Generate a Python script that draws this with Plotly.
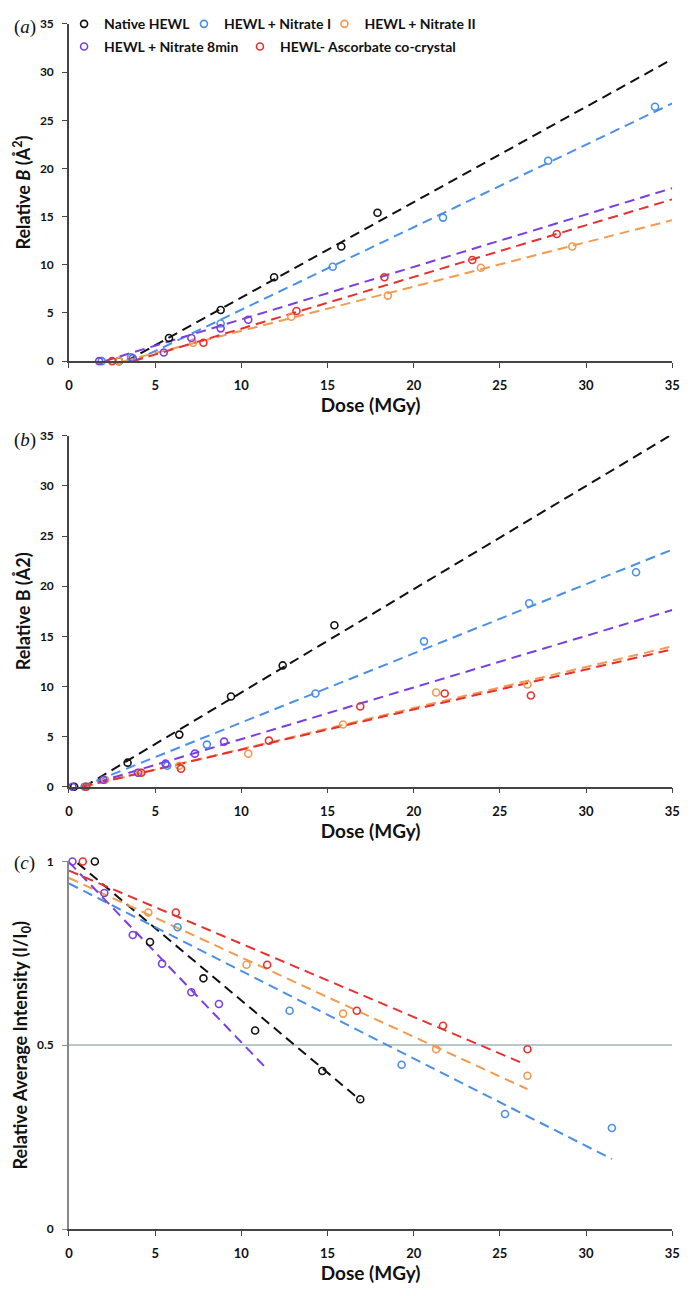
import plotly.graph_objects as go
import numpy as np

# page offset from default body margin
OFF = 8
W, H = 693 - OFF, 1296 - OFF

names = ["Native HEWL", "HEWL + Nitrate I", "HEWL + Nitrate II",
         "HEWL + Nitrate 8min", "HEWL- Ascorbate co-crystal"]
colors = ["#111111", "#4a8fe8", "#f39a4e", "#7a3fe4", "#e8302f"]

# ---------------- Panel (a): Relative B vs dose ----------------
a_native_x = [2.9, 5.8, 8.8, 11.9, 15.8, 17.9]
a_native_y = [0.0, 2.4, 5.3, 8.7, 11.9, 15.4]
a_nit1_x = [1.9, 3.6, 8.8, 15.3, 21.7, 27.8, 34.0]
a_nit1_y = [0.0, 0.4, 3.9, 9.8, 14.9, 20.8, 26.4]
a_nit2_x = [2.9, 7.2, 12.9, 18.5, 23.9, 29.2]
a_nit2_y = [0.0, 1.9, 4.6, 6.8, 9.7, 11.9]
a_8min_x = [1.75, 3.7, 5.5, 7.1, 8.8, 10.4]
a_8min_y = [0.0, 0.3, 0.9, 2.4, 3.4, 4.3]
a_asc_x = [2.5, 7.8, 13.2, 18.3, 23.4, 28.3]
a_asc_y = [0.0, 1.9, 5.2, 8.7, 10.5, 13.2]
a_slope = [0.99, 0.857, 0.46, 0.545, 0.537]
a_icpt = [-3.3, -3.24, -1.46, -1.12, -2.0]
a_xend = [35, 35, 35, 35, 35]

# ---------------- Panel (b): Relative B vs dose ----------------
b_native_x = [0.3, 3.4, 6.4, 9.4, 12.4, 15.4]
b_native_y = [0.0, 2.4, 5.2, 9.0, 12.1, 16.1]
b_nit1_x = [0.9, 5.7, 8.0, 14.3, 20.6, 26.7, 32.9]
b_nit1_y = [0.0, 2.1, 4.2, 9.3, 14.5, 18.3, 21.4]
b_nit2_x = [1.0, 2.1, 4.1, 6.4, 10.4, 15.9, 21.3, 26.6]
b_nit2_y = [0.0, 0.7, 1.4, 2.1, 3.3, 6.2, 9.4, 10.2]
b_8min_x = [0.2, 2.0, 4.0, 5.6, 7.3, 9.0]
b_8min_y = [0.0, 0.7, 1.4, 2.3, 3.3, 4.5]
b_asc_x = [1.0, 4.2, 6.5, 11.6, 16.9, 21.8, 26.8]
b_asc_y = [0.0, 1.4, 1.8, 4.6, 8.0, 9.3, 9.1]
b_slope = [1.03, 0.69, 0.41, 0.515, 0.40]
b_icpt = [-0.9, -0.5, -0.35, -0.4, -0.3]
b_xend = [35, 35, 35, 35, 35]

# ---------------- Panel (c): Relative intensity vs dose ----------------
c_native_x = [1.5, 4.7, 7.8, 10.8, 14.7, 16.9]
c_native_y = [1.0, 0.781, 0.682, 0.54, 0.43, 0.353]
c_nit1_x = [6.3, 12.8, 19.3, 25.3, 31.5]
c_nit1_y = [0.821, 0.594, 0.447, 0.313, 0.275]
c_nit2_x = [4.6, 10.3, 15.9, 21.3, 26.6]
c_nit2_y = [0.861, 0.719, 0.586, 0.489, 0.417]
c_8min_x = [0.2, 2.05, 3.7, 5.4, 7.1, 8.7]
c_8min_y = [1.0, 0.914, 0.80, 0.722, 0.644, 0.612]
c_asc_x = [0.8, 6.2, 11.5, 16.7, 21.7, 26.6]
c_asc_y = [1.0, 0.861, 0.719, 0.594, 0.553, 0.489]
c_slope = [-0.0393, -0.0238, -0.0216, -0.049, -0.0199]
c_icpt = [1.015, 0.94, 0.955, 0.998, 0.975]
c_xstart = [0.5, 0.0, 0.0, 0.0, 0.0]
c_xend = [16.9, 31.5, 26.6, 11.4, 26.4]

dose_ticks = [0, 5, 10, 15, 20, 25, 30, 35]
b_ticks = [0, 5, 10, 15, 20, 25, 30, 35]
i_ticks = [0, 0.5, 1]
i_ticklabels = ["0", "0.5", "1"]

FONT = "Lato"
fig = go.Figure()


def px_x(p):
    return (p - OFF) / W


def py(p):
    return 1 - (p - OFF) / H


panels = [
    ("x", "y", [(a_native_x, a_native_y), (a_nit1_x, a_nit1_y), (a_nit2_x, a_nit2_y),
                (a_8min_x, a_8min_y), (a_asc_x, a_asc_y)], a_slope, a_icpt, None, a_xend),
    ("x2", "y2", [(b_native_x, b_native_y), (b_nit1_x, b_nit1_y), (b_nit2_x, b_nit2_y),
                  (b_8min_x, b_8min_y), (b_asc_x, b_asc_y)], b_slope, b_icpt, None, b_xend),
    ("x3", "y3", [(c_native_x, c_native_y), (c_nit1_x, c_nit1_y), (c_nit2_x, c_nit2_y),
                  (c_8min_x, c_8min_y), (c_asc_x, c_asc_y)], c_slope, c_icpt, c_xstart, c_xend),
]

legend_ids = ["legend", "legend2", "legend3", "legend4", "legend5"]

for pi, (xa, ya, series, slopes, icpts, xs0, xs1) in enumerate(panels):
    for i in range(5):
        if xs0 is None:
            x0 = max(0.0, -icpts[i] / slopes[i])
        else:
            x0 = xs0[i]
        xl = np.array([x0, xs1[i]])
        yl = slopes[i] * xl + icpts[i]
        fig.add_trace(go.Scatter(x=xl, y=yl, mode="lines", xaxis=xa, yaxis=ya,
                                 line=dict(color=colors[i], width=2, dash="10px,6px"),
                                 showlegend=False, hoverinfo="skip"))
    for i, (sx, sy) in enumerate(series):
        fig.add_trace(go.Scatter(x=sx, y=sy, mode="markers", xaxis=xa, yaxis=ya,
                                 name=names[i],
                                 marker=dict(symbol="circle-open", size=7, color=colors[i],
                                             line=dict(width=1.6, color=colors[i])),
                                 cliponaxis=False,
                                 showlegend=(pi == 0),
                                 legend=legend_ids[i]))

xdom = [px_x(66), px_x(680)]
tickfont = dict(family=FONT, size=13, color="#111", weight="bold")
ytickfont = dict(family=FONT, size=12, color="#111", weight="bold")
titlefont = dict(family=FONT, size=18, color="#111", weight="bold")
axis_common = dict(showgrid=False, zeroline=False, showline=True, linewidth=1.5,
                   linecolor="#444", ticks="outside", ticklen=5, tickwidth=1.2,
                   tickcolor="#444", tickfont=tickfont, ticklabelstandoff=7)
ycommon = dict(axis_common, tickfont=ytickfont, ticklabelstandoff=6)

xcommon = dict(axis_common, range=[0, 35], tickvals=dose_ticks,
               title=dict(text="Dose (MGy)", font=dict(titlefont, size=19), standoff=5))

legfont = dict(family=FONT, size=14, color="#111", weight="bold")
# legend entry anchor positions (page px): left edge x, top y
leg_pos = [(61, -7), (183, -7), (326, -7), (61, 16), (240, 16)]

layout_legends = {}
for lid, (lx, ly) in zip(legend_ids, leg_pos):
    layout_legends[lid] = dict(orientation="h", x=px_x(lx), xanchor="left", y=py(ly),
                               yanchor="top", font=legfont, bgcolor="rgba(0,0,0,0)",
                               itemwidth=30, tracegroupgap=0)

fig.update_layout(
    width=W, height=H, plot_bgcolor="white", paper_bgcolor="white",
    margin=dict(l=0, r=0, t=0, b=0),
    xaxis=dict(xcommon, domain=xdom, anchor="y"),
    yaxis=dict(ycommon, domain=[py(352), py(9)], range=[0, 35], tickvals=b_ticks,
               anchor="x", title=dict(text="Relative <i>B</i> (Å<sup>2</sup>)", font=titlefont, standoff=5)),
    xaxis2=dict(xcommon, domain=xdom, anchor="y2"),
    yaxis2=dict(ycommon, domain=[py(785), py(428)], range=[0, 35], tickvals=b_ticks,
                anchor="x2", title=dict(text="Relative B (Å2)", font=titlefont, standoff=5)),
    xaxis3=dict(xcommon, domain=xdom, anchor="y3"),
    yaxis3=dict(ycommon, domain=[py(1235), py(861)], range=[0, 1], tickvals=i_ticks,
                ticktext=i_ticklabels, linecolor="#888", tickcolor="#888",
                showgrid=True, gridcolor="#b9c9cb", gridwidth=1.5,
                anchor="x3", title=dict(text="Relative Average Intensity (I/I<sub>0</sub>)",
                                        font=titlefont, standoff=5)),
    **layout_legends,
)

for lab, ypix in [("a", 12), ("b", 432), ("c", 863)]:
    fig.add_annotation(text="(<i>%s</i>)" % lab, xref="paper", yref="paper",
                       x=0.0, y=py(ypix), xanchor="left", yanchor="middle", showarrow=False,
                       font=dict(family="Liberation Serif", size=19, color="#111"))

fig.write_html("out.html")
